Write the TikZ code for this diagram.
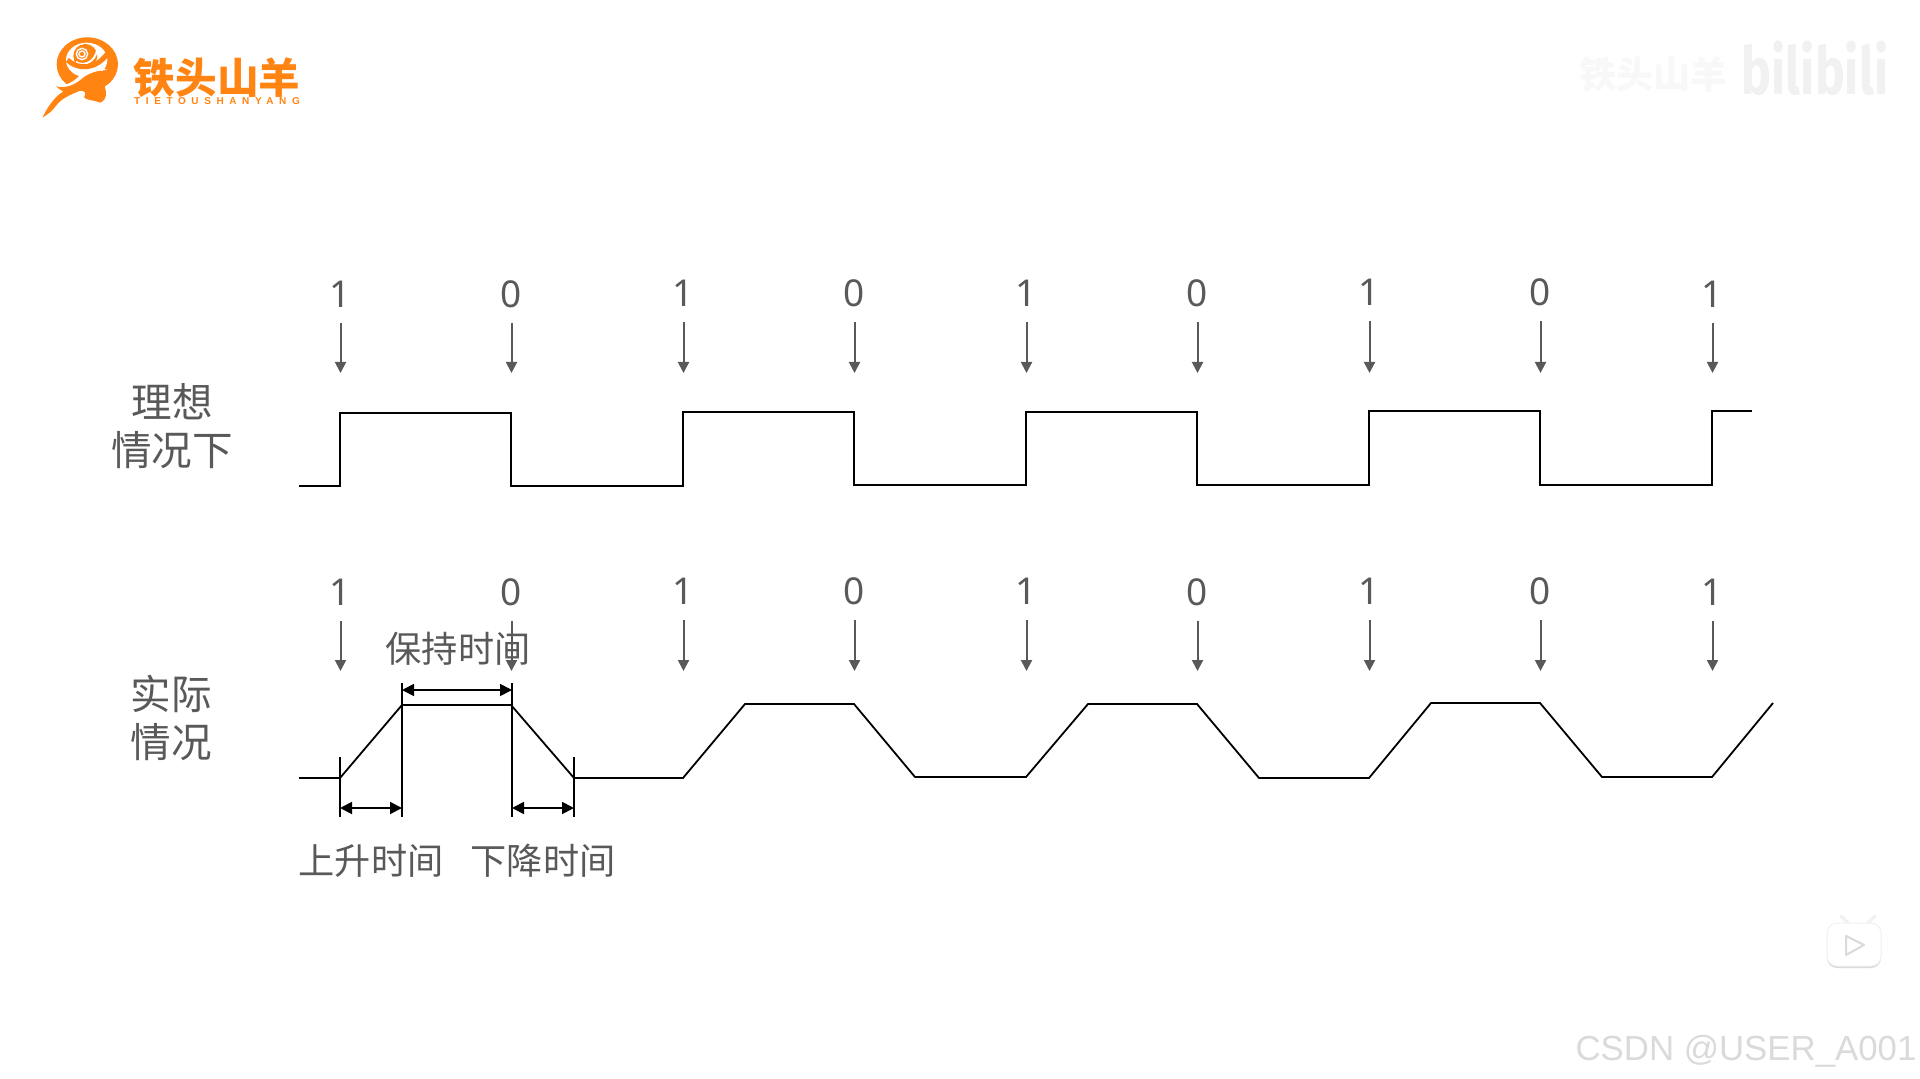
\documentclass[tikz,border=0pt]{standalone}
\usepackage{fontspec}
\setmainfont{Noto Sans CJK SC}
\newfontfamily\digitfont{Noto Sans}
\newfontfamily\markfont{Liberation Sans}
\newfontfamily\logofont[LetterSpace=56]{Liberation Sans}
\newfontfamily\bilifont{Fira Sans}
\definecolor{textgray}{HTML}{595959}
\definecolor{logoorange}{HTML}{FF8412}
\definecolor{markgray}{HTML}{DADADA}
\definecolor{faintgray}{HTML}{F1F1F1}
\definecolor{palegray}{HTML}{F8F8F8}
\usetikzlibrary{arrows.meta, positioning}

\begin{document}
\begin{tikzpicture}[
        x=0.5pt, y=-0.5pt,
        bit/.style={font=\digitfont\fontsize{18.5}{20}\selectfont, text=textgray, minimum height=29pt, inner sep=0pt, outer sep=0pt},
        caption/.style={font=\fontsize{18.1}{20}\selectfont, text=textgray, inner sep=0pt},
        rowname/.style={font=\fontsize{20.3}{24}\selectfont, text=textgray, align=center, inner sep=0pt},
        probe/.style={-{Triangle[length=5.5pt,width=5.5pt]}, line width=1pt, draw=textgray},
        wave/.style={line width=0.9pt, draw=black, line join=miter},
        span/.style={{Triangle[length=6pt,width=6pt]}-{Triangle[length=6pt,width=6pt]}, line width=0.9pt, draw=black},
        tick/.style={line width=0.9pt, draw=black}
    ]
        \useasboundingbox (0,0) rectangle (1920,1079);
        \fill[white] (0,0) rectangle (1920,1079);

        % Logo emblem
        \begin{scope}[shift={(20,20)}, scale=1/3]
            \fill[logoorange] (202,133) ellipse (92 and 81);
            \fill[white] (200,120) ellipse (62 and 52);
            \fill[logoorange] (196,108) circle (36);
            \draw[white, line width=0.7pt] (186,102) circle (9) (186,102) circle (17);
            \draw[white, line width=1pt] (168,126) .. controls (190,140) and (225,128) .. (232,88);
            \draw[logoorange, line width=2.5pt] (142,120) .. controls (175,150) and (225,150) .. (262,102);
            \fill[logoorange] (68,292) .. controls (85,255) and (110,225) .. (130,215) .. controls (120,208) and (112,204) .. (108,198) .. controls (135,205) and (160,195) .. (185,170) .. controls (205,150) and (235,145) .. (262,158) .. controls (245,160) and (255,172) .. (272,186) .. controls (262,195) and (255,185) .. (250,190) .. controls (262,215) and (262,240) .. (240,248) .. controls (225,240) and (200,242) .. (192,232) .. controls (200,222) and (195,210) .. (180,212) .. controls (150,225) and (125,235) .. (110,255) .. controls (98,272) and (82,285) .. (68,292);
            \fill[white] (108,198) .. controls (135,200) and (165,185) .. (185,160) .. controls (205,145) and (235,140) .. (262,150) .. controls (235,150) and (210,158) .. (190,172) .. controls (165,195) and (135,207) .. (108,198);
        \end{scope}
        \node[font=\bfseries\fontsize{20.8}{24}\selectfont, text=logoorange, inner sep=0pt] (logoname) at (217,78) {铁头山羊};
        \node[font=\logofont\bfseries\fontsize{5}{6}\selectfont, text=logoorange, inner sep=0pt] (logopinyin) at (217,101) {TIETOUSHANYANG};

        % Watermarks
        \node[font=\bfseries\fontsize{18.5}{22}\selectfont, text=palegray, inner sep=0pt] (markname) at (1653,75) {铁头山羊};
        \node[font=\bilifont\bfseries\fontsize{33}{36}\selectfont, text=faintgray, inner sep=0pt, xscale=0.76] (markbili) at (1815,68) {bilibili};
        \node[font=\markfont\fontsize{17.4}{20}\selectfont, text=markgray, inner sep=0pt] (markcsdn) at (1746,1051) {CSDN @USER\_A001};

        % Player icon
        \draw[line width=1.5pt, line cap=round, draw=faintgray] (1841,916) -- (1849,924) (1867,924) -- (1875,916);
        \fill[markgray, rounded corners=5pt] (1827,924) rectangle (1881,968);
        \fill[white, rounded corners=5pt, draw=faintgray, line width=0.5pt] (1827,923) rectangle (1881,966);
        \draw[line width=1pt, line join=round, draw=markgray] (1846,936) -- (1864,945) -- (1846,955) -- cycle;

        % Row names
        \node[rowname] (ideal) at (172,426) {理想\\情况下};
        \node[rowname] (real) at (171,718) {实际\\情况};

        % Ideal bits
        \node[bit] (a1) at (340.5,294) {1}; \coordinate (a1t) at (340.5,373); \draw[probe] (a1) -- (a1t);
        \node[bit] (a2) at (511.5,294) {0}; \coordinate (a2t) at (511.5,373); \draw[probe] (a2) -- (a2t);
        \node[bit] (a3) at (683.5,293) {1}; \coordinate (a3t) at (683.5,373); \draw[probe] (a3) -- (a3t);
        \node[bit] (a4) at (854.5,293) {0}; \coordinate (a4t) at (854.5,373); \draw[probe] (a4) -- (a4t);
        \node[bit] (a5) at (1026.5,293) {1}; \coordinate (a5t) at (1026.5,373); \draw[probe] (a5) -- (a5t);
        \node[bit] (a6) at (1197.5,293) {0}; \coordinate (a6t) at (1197.5,373); \draw[probe] (a6) -- (a6t);
        \node[bit] (a7) at (1369.5,292) {1}; \coordinate (a7t) at (1369.5,373); \draw[probe] (a7) -- (a7t);
        \node[bit] (a8) at (1540.5,292) {0}; \coordinate (a8t) at (1540.5,373); \draw[probe] (a8) -- (a8t);
        \node[bit] (a9) at (1712.5,294) {1}; \coordinate (a9t) at (1712.5,373); \draw[probe] (a9) -- (a9t);

        % Ideal wave
        \draw[wave] (299,486) -- (340,486) -- (340,413) -- (511,413) -- (511,486) -- (683,486) -- (683,412) -- (854,412) -- (854,485) -- (1026,485) -- (1026,412) -- (1197,412) -- (1197,485) -- (1369,485) -- (1369,411) -- (1540,411) -- (1540,485) -- (1712,485) -- (1712,411) -- (1752,411);

        % Real bits
        \node[bit] (b1) at (340.5,592) {1}; \coordinate (b1t) at (340.5,671); \draw[probe] (b1) -- (b1t);
        \node[bit] (b2) at (511.5,592) {0}; \coordinate (b2t) at (511.5,671); \draw[probe] (b2) -- (b2t);
        \node[bit] (b3) at (683.5,591) {1}; \coordinate (b3t) at (683.5,671); \draw[probe] (b3) -- (b3t);
        \node[bit] (b4) at (854.5,591) {0}; \coordinate (b4t) at (854.5,671); \draw[probe] (b4) -- (b4t);
        \node[bit] (b5) at (1026.5,591) {1}; \coordinate (b5t) at (1026.5,671); \draw[probe] (b5) -- (b5t);
        \node[bit] (b6) at (1197.5,592) {0}; \coordinate (b6t) at (1197.5,671); \draw[probe] (b6) -- (b6t);
        \node[bit] (b7) at (1369.5,591) {1}; \coordinate (b7t) at (1369.5,671); \draw[probe] (b7) -- (b7t);
        \node[bit] (b8) at (1540.5,591) {0}; \coordinate (b8t) at (1540.5,671); \draw[probe] (b8) -- (b8t);
        \node[bit] (b9) at (1712.5,592) {1}; \coordinate (b9t) at (1712.5,671); \draw[probe] (b9) -- (b9t);

        % Real wave
        \draw[wave] (299,778) -- (340,778) -- (402,705) -- (511,705) -- (574,778) -- (683,778) -- (745,704) -- (854,704) -- (915,777) -- (1026,777) -- (1088,704) -- (1197,704) -- (1259,778) -- (1369,778) -- (1431,703) -- (1540,703) -- (1602,777) -- (1712,777) -- (1773,703);

        % Time spans
        \coordinate (rise0) at (340,757);
        \coordinate (rise0b) at (340,817);
        \coordinate (rise1) at (402,683);
        \coordinate (rise1b) at (402,817);
        \coordinate (fall0) at (512,683);
        \coordinate (fall0b) at (512,817);
        \coordinate (fall1) at (574,757);
        \coordinate (fall1b) at (574,817);
        \draw[tick] (rise0) -- (rise0b);
        \draw[tick] (rise1) -- (rise1b);
        \draw[tick] (fall0) -- (fall0b);
        \draw[tick] (fall1) -- (fall1b);
        \coordinate (hold0) at (402,690);
        \coordinate (hold1) at (512,690);
        \coordinate (up0) at (340,808);
        \coordinate (up1) at (402,808);
        \coordinate (down0) at (512,808);
        \coordinate (down1) at (574,808);
        \draw[span] (hold0) -- (hold1);
        \draw[span] (up0) -- (up1);
        \draw[span] (down0) -- (down1);

        % Captions
        \node[caption] (hold) at (458,649) {保持时间};
        \node[caption] (rise) at (371,861) {上升时间};
        \node[caption] (fall) at (543,861) {下降时间};
    \end{tikzpicture}
\end{document}
